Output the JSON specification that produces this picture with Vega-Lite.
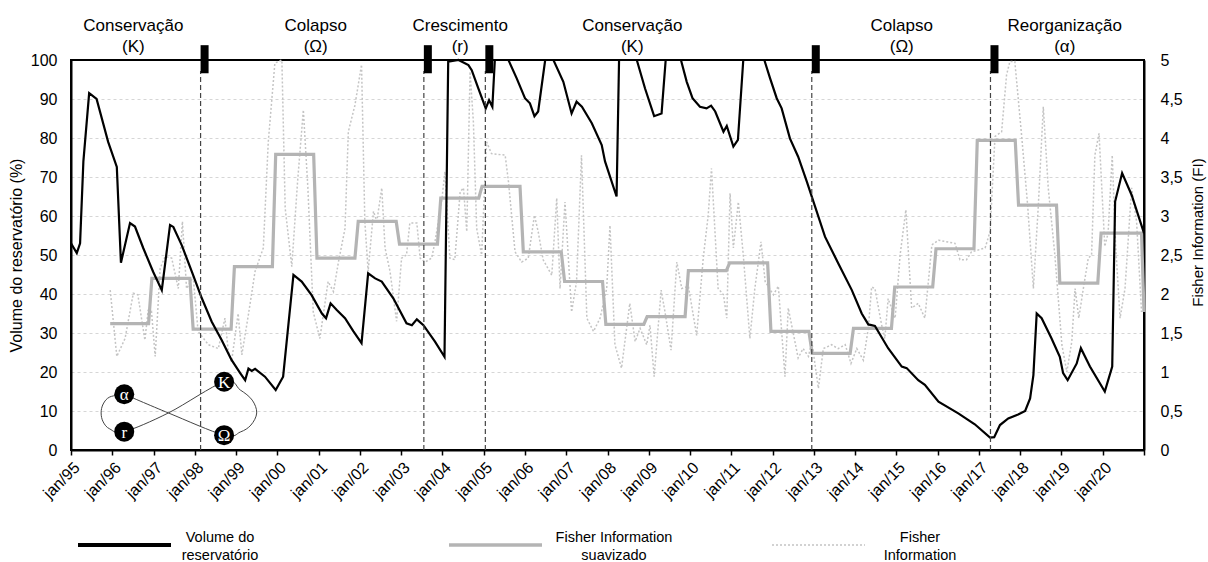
{
  "$schema": "https://vega.github.io/schema/vega-lite/v6.json",
  "width": 1073,
  "height": 390,
  "autosize": {"type": "none"},
  "padding": {"left": 71, "top": 60, "right": 64, "bottom": 112},
  "background": "white",
  "config": {
    "font": "Liberation Sans",
    "view": {"stroke": "#000000", "strokeWidth": 2},
    "axis": {"labelColor": "#000000", "titleColor": "#000000", "labelFontSize": 16, "titleFontSize": 16, "titleFontWeight": "normal", "domainColor": "#000000", "domainWidth": 2, "tickColor": "#000000"},
    "legend": {"labelColor": "#000000", "labelFontSize": 14.5, "padding": 0, "symbolType": "stroke", "labelLimit": 300}
  },
  "datasets": {
    "volume": [
      {"ano": 1995.0, "vol": 53}, {"ano": 1995.14, "vol": 50.5}, {"ano": 1995.22, "vol": 53}, {"ano": 1995.3, "vol": 74}, {"ano": 1995.44, "vol": 91.5}, {"ano": 1995.62, "vol": 90}, {"ano": 1995.9, "vol": 79}, {"ano": 1996.11, "vol": 72.6}, {"ano": 1996.21, "vol": 48}, {"ano": 1996.43, "vol": 58.2}, {"ano": 1996.55, "vol": 57.3}, {"ano": 1996.75, "vol": 51.8}, {"ano": 1996.99, "vol": 45.7}, {"ano": 1997.2, "vol": 41}, {"ano": 1997.4, "vol": 57.7}, {"ano": 1997.48, "vol": 57.2}, {"ano": 1997.68, "vol": 52.6}, {"ano": 1997.93, "vol": 45.7}, {"ano": 1998.17, "vol": 38.9}, {"ano": 1998.41, "vol": 32.9}, {"ano": 1998.65, "vol": 28.2}, {"ano": 1998.89, "vol": 23.1}, {"ano": 1999.1, "vol": 19.7}, {"ano": 1999.22, "vol": 17.9}, {"ano": 1999.3, "vol": 20.9}, {"ano": 1999.38, "vol": 20.3}, {"ano": 1999.46, "vol": 20.8}, {"ano": 1999.7, "vol": 18.8}, {"ano": 1999.96, "vol": 15.4}, {"ano": 2000.14, "vol": 18.8}, {"ano": 2000.39, "vol": 44.9}, {"ano": 2000.59, "vol": 43.2}, {"ano": 2000.83, "vol": 39.7}, {"ano": 2001.08, "vol": 35}, {"ano": 2001.18, "vol": 33.8}, {"ano": 2001.29, "vol": 37.6}, {"ano": 2001.44, "vol": 35.9}, {"ano": 2001.64, "vol": 33.8}, {"ano": 2001.84, "vol": 30.5}, {"ano": 2002.04, "vol": 27.4}, {"ano": 2002.2, "vol": 45.3}, {"ano": 2002.37, "vol": 44}, {"ano": 2002.53, "vol": 43.2}, {"ano": 2002.81, "vol": 38.9}, {"ano": 2003.13, "vol": 32.5}, {"ano": 2003.26, "vol": 32}, {"ano": 2003.38, "vol": 33.5}, {"ano": 2003.54, "vol": 32}, {"ano": 2003.82, "vol": 27.8}, {"ano": 2004.05, "vol": 23.9}, {"ano": 2004.14, "vol": 99.6}, {"ano": 2004.39, "vol": 100}, {"ano": 2004.63, "vol": 98.7}, {"ano": 2004.71, "vol": 97.4}, {"ano": 2004.87, "vol": 92.7}, {"ano": 2005.05, "vol": 87.6}, {"ano": 2005.13, "vol": 89.7}, {"ano": 2005.21, "vol": 88}, {"ano": 2005.27, "vol": 100}, {"ano": 2005.6, "vol": 100}, {"ano": 2005.8, "vol": 95.3}, {"ano": 2006.0, "vol": 90.2}, {"ano": 2006.12, "vol": 88.9}, {"ano": 2006.23, "vol": 85.6}, {"ano": 2006.32, "vol": 86.8}, {"ano": 2006.49, "vol": 100}, {"ano": 2006.69, "vol": 100}, {"ano": 2006.93, "vol": 94.4}, {"ano": 2007.13, "vol": 86.3}, {"ano": 2007.25, "vol": 89.3}, {"ano": 2007.38, "vol": 88}, {"ano": 2007.62, "vol": 83.8}, {"ano": 2007.86, "vol": 78.2}, {"ano": 2007.94, "vol": 74}, {"ano": 2008.22, "vol": 65}, {"ano": 2008.28, "vol": 100}, {"ano": 2008.71, "vol": 100}, {"ano": 2008.91, "vol": 92.7}, {"ano": 2009.13, "vol": 85.6}, {"ano": 2009.31, "vol": 86.3}, {"ano": 2009.41, "vol": 100}, {"ano": 2009.78, "vol": 100}, {"ano": 2009.92, "vol": 94.4}, {"ano": 2010.06, "vol": 90.2}, {"ano": 2010.24, "vol": 88}, {"ano": 2010.4, "vol": 87.6}, {"ano": 2010.51, "vol": 88.3}, {"ano": 2010.61, "vol": 86.8}, {"ano": 2010.81, "vol": 81.6}, {"ano": 2010.89, "vol": 83.1}, {"ano": 2011.05, "vol": 77.8}, {"ano": 2011.16, "vol": 79.5}, {"ano": 2011.29, "vol": 100}, {"ano": 2011.8, "vol": 100}, {"ano": 2011.94, "vol": 95.3}, {"ano": 2012.1, "vol": 90.2}, {"ano": 2012.22, "vol": 87.6}, {"ano": 2012.42, "vol": 79.9}, {"ano": 2012.62, "vol": 75.2}, {"ano": 2012.83, "vol": 68.8}, {"ano": 2012.99, "vol": 63.7}, {"ano": 2013.27, "vol": 54.7}, {"ano": 2013.59, "vol": 47.9}, {"ano": 2013.92, "vol": 41}, {"ano": 2014.16, "vol": 35}, {"ano": 2014.32, "vol": 32.2}, {"ano": 2014.48, "vol": 31.8}, {"ano": 2014.8, "vol": 26.1}, {"ano": 2015.13, "vol": 21.4}, {"ano": 2015.25, "vol": 21}, {"ano": 2015.53, "vol": 17.9}, {"ano": 2015.69, "vol": 16.7}, {"ano": 2016.02, "vol": 12.4}, {"ano": 2016.5, "vol": 9.4}, {"ano": 2016.9, "vol": 6.6}, {"ano": 2017.27, "vol": 3.2}, {"ano": 2017.37, "vol": 3.3}, {"ano": 2017.51, "vol": 6.4}, {"ano": 2017.71, "vol": 8.1}, {"ano": 2017.95, "vol": 9.1}, {"ano": 2018.12, "vol": 10}, {"ano": 2018.24, "vol": 13.2}, {"ano": 2018.32, "vol": 19.2}, {"ano": 2018.4, "vol": 35}, {"ano": 2018.52, "vol": 33.8}, {"ano": 2018.76, "vol": 28.6}, {"ano": 2018.96, "vol": 23.9}, {"ano": 2019.04, "vol": 19.7}, {"ano": 2019.15, "vol": 17.9}, {"ano": 2019.37, "vol": 22.2}, {"ano": 2019.47, "vol": 26.1}, {"ano": 2019.69, "vol": 21.4}, {"ano": 2020.05, "vol": 15}, {"ano": 2020.23, "vol": 21.4}, {"ano": 2020.3, "vol": 63.7}, {"ano": 2020.47, "vol": 71}, {"ano": 2020.7, "vol": 65.4}, {"ano": 2021.0, "vol": 55.6}
    ],
    "fi": [
      {"ano": 1995.95, "fi": 2.05}, {"ano": 1996.11, "fi": 1.2}, {"ano": 1996.31, "fi": 1.43}, {"ano": 1996.51, "fi": 2.01}, {"ano": 1996.62, "fi": 1.99}, {"ano": 1996.79, "fi": 1.41}, {"ano": 1996.87, "fi": 1.79}, {"ano": 1996.95, "fi": 1.78}, {"ano": 1997.04, "fi": 1.2}, {"ano": 1997.16, "fi": 2.33}, {"ano": 1997.28, "fi": 2.48}, {"ano": 1997.44, "fi": 2.46}, {"ano": 1997.6, "fi": 2.07}, {"ano": 1997.7, "fi": 2.93}, {"ano": 1997.8, "fi": 2.07}, {"ano": 1997.96, "fi": 2.22}, {"ano": 1998.08, "fi": 1.52}, {"ano": 1998.33, "fi": 1.35}, {"ano": 1998.57, "fi": 1.3}, {"ano": 1998.73, "fi": 1.69}, {"ano": 1998.81, "fi": 1.27}, {"ano": 1998.89, "fi": 1.13}, {"ano": 1999.05, "fi": 1.75}, {"ano": 1999.14, "fi": 1.22}, {"ano": 1999.3, "fi": 1.74}, {"ano": 1999.46, "fi": 2.29}, {"ano": 1999.66, "fi": 2.59}, {"ano": 1999.78, "fi": 3.95}, {"ano": 1999.94, "fi": 4.96}, {"ano": 2000.11, "fi": 5.0}, {"ano": 2000.19, "fi": 3.1}, {"ano": 2000.35, "fi": 2.35}, {"ano": 2000.49, "fi": 3.44}, {"ano": 2000.63, "fi": 4.36}, {"ano": 2000.74, "fi": 3.36}, {"ano": 2000.87, "fi": 1.77}, {"ano": 2001.03, "fi": 1.43}, {"ano": 2001.23, "fi": 2.16}, {"ano": 2001.36, "fi": 2.03}, {"ano": 2001.48, "fi": 2.41}, {"ano": 2001.64, "fi": 2.84}, {"ano": 2001.72, "fi": 4.08}, {"ano": 2001.88, "fi": 4.42}, {"ano": 2002.04, "fi": 4.94}, {"ano": 2002.12, "fi": 2.93}, {"ano": 2002.2, "fi": 2.29}, {"ano": 2002.33, "fi": 3.06}, {"ano": 2002.41, "fi": 2.93}, {"ano": 2002.53, "fi": 3.36}, {"ano": 2002.61, "fi": 2.59}, {"ano": 2002.73, "fi": 2.29}, {"ano": 2002.89, "fi": 1.65}, {"ano": 2003.01, "fi": 2.46}, {"ano": 2003.13, "fi": 2.5}, {"ano": 2003.21, "fi": 2.91}, {"ano": 2003.38, "fi": 2.91}, {"ano": 2003.46, "fi": 2.46}, {"ano": 2003.58, "fi": 2.41}, {"ano": 2003.74, "fi": 2.46}, {"ano": 2003.82, "fi": 2.67}, {"ano": 2003.98, "fi": 3.18}, {"ano": 2004.06, "fi": 3.57}, {"ano": 2004.18, "fi": 2.46}, {"ano": 2004.3, "fi": 2.44}, {"ano": 2004.43, "fi": 3.31}, {"ano": 2004.51, "fi": 3.36}, {"ano": 2004.59, "fi": 2.8}, {"ano": 2004.67, "fi": 4.85}, {"ano": 2004.75, "fi": 4.21}, {"ano": 2004.83, "fi": 2.84}, {"ano": 2004.95, "fi": 2.5}, {"ano": 2005.07, "fi": 3.95}, {"ano": 2005.19, "fi": 3.8}, {"ano": 2005.52, "fi": 3.78}, {"ano": 2005.6, "fi": 3.44}, {"ano": 2005.76, "fi": 2.54}, {"ano": 2005.92, "fi": 2.41}, {"ano": 2006.08, "fi": 2.46}, {"ano": 2006.23, "fi": 3.01}, {"ano": 2006.32, "fi": 2.8}, {"ano": 2006.44, "fi": 2.44}, {"ano": 2006.65, "fi": 2.24}, {"ano": 2006.77, "fi": 3.23}, {"ano": 2006.85, "fi": 2.07}, {"ano": 2006.97, "fi": 3.18}, {"ano": 2007.13, "fi": 1.77}, {"ano": 2007.25, "fi": 2.16}, {"ano": 2007.37, "fi": 3.78}, {"ano": 2007.5, "fi": 1.69}, {"ano": 2007.66, "fi": 1.52}, {"ano": 2007.82, "fi": 1.69}, {"ano": 2007.98, "fi": 2.07}, {"ano": 2008.06, "fi": 2.88}, {"ano": 2008.18, "fi": 1.35}, {"ano": 2008.34, "fi": 1.05}, {"ano": 2008.54, "fi": 1.88}, {"ano": 2008.67, "fi": 1.39}, {"ano": 2008.79, "fi": 1.56}, {"ano": 2008.95, "fi": 1.35}, {"ano": 2009.03, "fi": 1.6}, {"ano": 2009.13, "fi": 0.94}, {"ano": 2009.3, "fi": 2.05}, {"ano": 2009.39, "fi": 1.78}, {"ano": 2009.54, "fi": 1.28}, {"ano": 2009.68, "fi": 2.41}, {"ano": 2009.8, "fi": 2.07}, {"ano": 2009.96, "fi": 2.1}, {"ano": 2010.16, "fi": 1.47}, {"ano": 2010.32, "fi": 2.46}, {"ano": 2010.44, "fi": 3.01}, {"ano": 2010.52, "fi": 3.61}, {"ano": 2010.68, "fi": 2.07}, {"ano": 2010.81, "fi": 1.99}, {"ano": 2010.89, "fi": 1.69}, {"ano": 2010.97, "fi": 3.29}, {"ano": 2011.05, "fi": 2.59}, {"ano": 2011.17, "fi": 3.18}, {"ano": 2011.29, "fi": 2.5}, {"ano": 2011.45, "fi": 1.43}, {"ano": 2011.57, "fi": 2.07}, {"ano": 2011.72, "fi": 2.67}, {"ano": 2011.82, "fi": 2.16}, {"ano": 2012.02, "fi": 1.99}, {"ano": 2012.14, "fi": 2.1}, {"ano": 2012.3, "fi": 0.94}, {"ano": 2012.38, "fi": 1.82}, {"ano": 2012.62, "fi": 1.18}, {"ano": 2012.74, "fi": 1.3}, {"ano": 2012.87, "fi": 1.2}, {"ano": 2012.95, "fi": 1.39}, {"ano": 2013.11, "fi": 0.79}, {"ano": 2013.23, "fi": 1.3}, {"ano": 2013.43, "fi": 1.35}, {"ano": 2013.59, "fi": 1.3}, {"ano": 2013.76, "fi": 1.35}, {"ano": 2013.9, "fi": 1.11}, {"ano": 2014.04, "fi": 1.3}, {"ano": 2014.2, "fi": 1.15}, {"ano": 2014.32, "fi": 1.56}, {"ano": 2014.4, "fi": 2.09}, {"ano": 2014.48, "fi": 2.07}, {"ano": 2014.64, "fi": 1.61}, {"ano": 2014.72, "fi": 1.43}, {"ano": 2014.8, "fi": 1.94}, {"ano": 2014.97, "fi": 1.69}, {"ano": 2015.09, "fi": 2.5}, {"ano": 2015.23, "fi": 3.08}, {"ano": 2015.37, "fi": 1.82}, {"ano": 2015.53, "fi": 1.88}, {"ano": 2015.69, "fi": 1.69}, {"ano": 2015.86, "fi": 2.63}, {"ano": 2016.02, "fi": 2.69}, {"ano": 2016.42, "fi": 2.65}, {"ano": 2016.54, "fi": 2.44}, {"ano": 2016.7, "fi": 2.44}, {"ano": 2016.82, "fi": 2.54}, {"ano": 2017.15, "fi": 2.59}, {"ano": 2017.27, "fi": 2.8}, {"ano": 2017.39, "fi": 4.02}, {"ano": 2017.55, "fi": 4.08}, {"ano": 2017.67, "fi": 4.81}, {"ano": 2017.75, "fi": 4.98}, {"ano": 2017.87, "fi": 4.98}, {"ano": 2018.04, "fi": 4.0}, {"ano": 2018.18, "fi": 3.14}, {"ano": 2018.32, "fi": 2.07}, {"ano": 2018.44, "fi": 3.14}, {"ano": 2018.56, "fi": 4.4}, {"ano": 2018.68, "fi": 3.36}, {"ano": 2018.84, "fi": 2.5}, {"ano": 2019.01, "fi": 1.35}, {"ano": 2019.13, "fi": 1.0}, {"ano": 2019.25, "fi": 1.39}, {"ano": 2019.33, "fi": 2.07}, {"ano": 2019.42, "fi": 1.69}, {"ano": 2019.53, "fi": 2.07}, {"ano": 2019.65, "fi": 2.46}, {"ano": 2019.73, "fi": 2.5}, {"ano": 2019.81, "fi": 3.78}, {"ano": 2019.91, "fi": 4.06}, {"ano": 2020.05, "fi": 2.61}, {"ano": 2020.13, "fi": 2.78}, {"ano": 2020.23, "fi": 3.78}, {"ano": 2020.31, "fi": 2.65}, {"ano": 2020.42, "fi": 1.69}, {"ano": 2020.54, "fi": 2.07}, {"ano": 2020.7, "fi": 3.36}, {"ano": 2020.82, "fi": 2.93}, {"ano": 2020.94, "fi": 1.77}
    ],
    "fi_suavizado": [
      {"ano": 1995.95, "fi": 1.62}, {"ano": 1996.88, "fi": 1.62},
      {"ano": 1996.96, "fi": 2.2}, {"ano": 1997.88, "fi": 2.2},
      {"ano": 1997.96, "fi": 1.55}, {"ano": 1998.88, "fi": 1.55},
      {"ano": 1998.96, "fi": 2.35}, {"ano": 1999.88, "fi": 2.35},
      {"ano": 1999.96, "fi": 3.79}, {"ano": 2000.88, "fi": 3.79},
      {"ano": 2000.96, "fi": 2.46}, {"ano": 2001.88, "fi": 2.46},
      {"ano": 2001.96, "fi": 2.93}, {"ano": 2002.88, "fi": 2.93},
      {"ano": 2002.96, "fi": 2.64}, {"ano": 2003.88, "fi": 2.64},
      {"ano": 2003.96, "fi": 3.23}, {"ano": 2004.88, "fi": 3.23},
      {"ano": 2004.96, "fi": 3.38}, {"ano": 2005.88, "fi": 3.38},
      {"ano": 2005.96, "fi": 2.54}, {"ano": 2006.88, "fi": 2.54},
      {"ano": 2006.96, "fi": 2.16}, {"ano": 2007.88, "fi": 2.16},
      {"ano": 2007.96, "fi": 1.61}, {"ano": 2008.88, "fi": 1.61},
      {"ano": 2008.96, "fi": 1.71}, {"ano": 2009.88, "fi": 1.71},
      {"ano": 2009.96, "fi": 2.3}, {"ano": 2010.88, "fi": 2.3},
      {"ano": 2010.96, "fi": 2.4}, {"ano": 2011.88, "fi": 2.4},
      {"ano": 2011.96, "fi": 1.52}, {"ano": 2012.88, "fi": 1.52},
      {"ano": 2012.96, "fi": 1.24}, {"ano": 2013.88, "fi": 1.24},
      {"ano": 2013.96, "fi": 1.56}, {"ano": 2014.88, "fi": 1.56},
      {"ano": 2014.96, "fi": 2.09}, {"ano": 2015.88, "fi": 2.09},
      {"ano": 2015.96, "fi": 2.58}, {"ano": 2016.88, "fi": 2.58},
      {"ano": 2016.96, "fi": 3.97}, {"ano": 2017.88, "fi": 3.97},
      {"ano": 2017.96, "fi": 3.14}, {"ano": 2018.88, "fi": 3.14},
      {"ano": 2018.96, "fi": 2.14}, {"ano": 2019.88, "fi": 2.14},
      {"ano": 2019.96, "fi": 2.78}, {"ano": 2020.94, "fi": 2.78},
      {"ano": 2021.0, "fi": 1.77}
    ],
    "transicoes": [
      {"ano": 1998.14}, {"ano": 2003.55}, {"ano": 2005.04}, {"ano": 2012.95}, {"ano": 2017.28}
    ],
    "fases": [
      {"ano": 1996.51, "fase": "Conservação", "simbolo": "(K)"},
      {"ano": 2000.93, "fase": "Colapso", "simbolo": "(Ω)"},
      {"ano": 2004.43, "fase": "Crescimento", "simbolo": "(r)"},
      {"ano": 2008.6, "fase": "Conservação", "simbolo": "(K)"},
      {"ano": 2015.13, "fase": "Colapso", "simbolo": "(Ω)"},
      {"ano": 2019.08, "fase": "Reorganização", "simbolo": "(α)"}
    ],
    "ciclo": [
      {"ordem": 1, "ano": 1996.29, "vol": 14.3}, {"ordem": 2, "ano": 1997.36, "vol": 9.5}, {"ordem": 3, "ano": 1998.71, "vol": 3.8}, {"ordem": 4, "ano": 1999.1, "vol": 4.6}, {"ordem": 5, "ano": 1999.36, "vol": 6.4}, {"ordem": 6, "ano": 1999.5, "vol": 9.5}, {"ordem": 7, "ano": 1999.39, "vol": 12.8}, {"ordem": 8, "ano": 1999.1, "vol": 15.4}, {"ordem": 9, "ano": 1998.71, "vol": 17.5}, {"ordem": 10, "ano": 1997.36, "vol": 9.5}, {"ordem": 11, "ano": 1996.29, "vol": 4.7}, {"ordem": 12, "ano": 1995.94, "vol": 5.4}, {"ordem": 13, "ano": 1995.78, "vol": 7.2}, {"ordem": 14, "ano": 1995.73, "vol": 9.5}, {"ordem": 15, "ano": 1995.78, "vol": 11.8}, {"ordem": 16, "ano": 1995.94, "vol": 13.6}, {"ordem": 17, "ano": 1996.29, "vol": 14.3}
    ],
    "nos": [
      {"ano": 1996.29, "vol": 14.3, "letra": "α"},
      {"ano": 1996.29, "vol": 4.7, "letra": "r"},
      {"ano": 1998.71, "vol": 17.5, "letra": "K"},
      {"ano": 1998.71, "vol": 3.8, "letra": "Ω"}
    ]
  },
  "layer": [
    {
      "layer": [
        {
          "data": {"name": "fi"},
          "mark": {"type": "line", "color": "#c4c4c4", "strokeWidth": 1.5},
          "encoding": {
            "x": {"field": "ano", "type": "quantitative", "scale": {"domain": [1995, 2021], "nice": false, "zero": false},
              "axis": {"title": null, "tickCount": 40, "values": [1995, 1996, 1997, 1998, 1999, 2000, 2001, 2002, 2003, 2004, 2005, 2006, 2007, 2008, 2009, 2010, 2011, 2012, 2013, 2014, 2015, 2016, 2017, 2018, 2019, 2020, 2021],
                "labelExpr": "datum.value < 2021 ? 'jan/' + substring(toString(datum.value), 2, 4) : ''",
                "labelAngle": -45, "labelFontSize": 16, "tickSize": 5, "tickWidth": 1.5, "grid": false, "labelPadding": 4, "labelOverlap": false, "labelBound": false, "labelFlush": false}},
            "y": {"field": "fi", "type": "quantitative", "scale": {"domain": [0, 5], "nice": false},
              "axis": {"orient": "right", "tickCount": 20, "values": [0, 0.5, 1, 1.5, 2, 2.5, 3, 3.5, 4, 4.5, 5], "labelExpr": "replace(toString(datum.value), '.', ',')", "labelOverlap": false, "ticks": false, "grid": false, "labelPadding": 16, "title": "Fisher Information (FI)", "titleFontSize": 15, "titleAngle": 270, "titleAlign": "center", "titleBaseline": "middle", "titleX": 53, "titleY": 172}},
            "strokeDash": {"datum": "Fisher Information", "type": "nominal", "scale": {"range": [[2, 2]]},
              "legend": {"orient": "none", "legendX": 700, "legendY": 437.5, "title": null, "symbolSize": 8649, "symbolStrokeWidth": 1.5, "symbolStrokeColor": "#c4c4c4", "labelExpr": "['Fisher', 'Information']", "labelAlign": "center", "labelOffset": 54,
                "encode": {"labels": {"update": {"lineHeight": {"value": 18}, "dy": {"value": -7}}}}}}
          }
        },
        {
          "data": {"name": "fi_suavizado"},
          "mark": {"type": "line", "strokeWidth": 3.2},
          "encoding": {
            "x": {"field": "ano", "type": "quantitative"},
            "y": {"field": "fi", "type": "quantitative"},
            "color": {"datum": "Fisher Information suavizado", "type": "nominal", "scale": {"range": ["#b4b4b4"]},
              "legend": {"orient": "none", "legendX": 376, "legendY": 436.5, "title": null, "symbolSize": 8649, "symbolStrokeWidth": 3.5, "labelExpr": "['Fisher Information', 'suavizado']", "labelAlign": "center", "labelOffset": 70,
                "encode": {"labels": {"update": {"lineHeight": {"value": 18}, "dy": {"value": -7}}}}}}
          }
        }
      ]
    },
    {
      "layer": [
        {
          "data": {"name": "volume"},
          "mark": {"type": "line", "strokeWidth": 2.2},
          "encoding": {
            "x": {"field": "ano", "type": "quantitative"},
            "y": {"field": "vol", "type": "quantitative", "scale": {"domain": [0, 100], "nice": false},
              "axis": {"orient": "left", "tickCount": 20, "values": [0, 10, 20, 30, 40, 50, 60, 70, 80, 90, 100], "labelOverlap": false, "ticks": false, "labelPadding": 14, "grid": true,
                "gridColor": {"condition": {"test": "datum.value >= 100 || datum.value <= 0", "value": "transparent"}, "value": "#d6d6d6"},
                "gridDash": [3, 3], "gridWidth": 1, "title": "Volume do reservatório (%)", "titlePadding": 6}},
            "stroke": {"datum": "Volume do reservatório", "type": "nominal", "scale": {"range": ["#000000"]},
              "legend": {"orient": "none", "legendX": 5, "legendY": 436.5, "title": null, "symbolSize": 8649, "symbolStrokeWidth": 4, "labelExpr": "['Volume do', 'reservatório']", "labelAlign": "center", "labelOffset": 47,
                "encode": {"labels": {"update": {"lineHeight": {"value": 18}, "dy": {"value": -7}}}}}}
          }
        },
        {
          "data": {"name": "transicoes"},
          "mark": {"type": "rule", "color": "#444444", "strokeWidth": 1.2, "strokeDash": [5, 3]},
          "encoding": {
            "x": {"field": "ano", "type": "quantitative"},
            "y": {"datum": 0, "type": "quantitative"},
            "y2": {"datum": 97.2}
          }
        },
        {
          "data": {"name": "transicoes"},
          "mark": {"type": "rule", "color": "#000000", "strokeWidth": 8, "xOffset": 4},
          "encoding": {
            "x": {"field": "ano", "type": "quantitative"},
            "y": {"datum": 96.6, "type": "quantitative"},
            "y2": {"datum": 103.8}
          }
        },
        {
          "data": {"name": "fases"},
          "mark": {"type": "text", "fontSize": 17, "color": "#000000", "baseline": "middle", "align": "center"},
          "encoding": {
            "x": {"field": "ano", "type": "quantitative"},
            "y": {"datum": 108.7, "type": "quantitative"},
            "text": {"field": "fase"}
          }
        },
        {
          "data": {"name": "fases"},
          "mark": {"type": "text", "fontSize": 17, "color": "#000000", "baseline": "middle", "align": "center"},
          "encoding": {
            "x": {"field": "ano", "type": "quantitative"},
            "y": {"datum": 103.3, "type": "quantitative"},
            "text": {"field": "simbolo"}
          }
        },
        {
          "data": {"name": "ciclo"},
          "mark": {"type": "line", "color": "#444444", "strokeWidth": 1, "interpolate": "cardinal"},
          "encoding": {
            "x": {"field": "ano", "type": "quantitative"},
            "y": {"field": "vol", "type": "quantitative"},
            "order": {"field": "ordem", "type": "quantitative"}
          }
        },
        {
          "data": {"name": "nos"},
          "mark": {"type": "point", "filled": true, "color": "#000000", "size": 400, "opacity": 1},
          "encoding": {
            "x": {"field": "ano", "type": "quantitative"},
            "y": {"field": "vol", "type": "quantitative"}
          }
        },
        {
          "data": {"name": "nos"},
          "mark": {"type": "text", "color": "#ffffff", "font": "Liberation Serif", "fontSize": 17, "baseline": "middle", "align": "center", "dy": 1},
          "encoding": {
            "x": {"field": "ano", "type": "quantitative"},
            "y": {"field": "vol", "type": "quantitative"},
            "text": {"field": "letra"}
          }
        }
      ]
    }
  ],
  "resolve": {"scale": {"y": "independent"}}
}
